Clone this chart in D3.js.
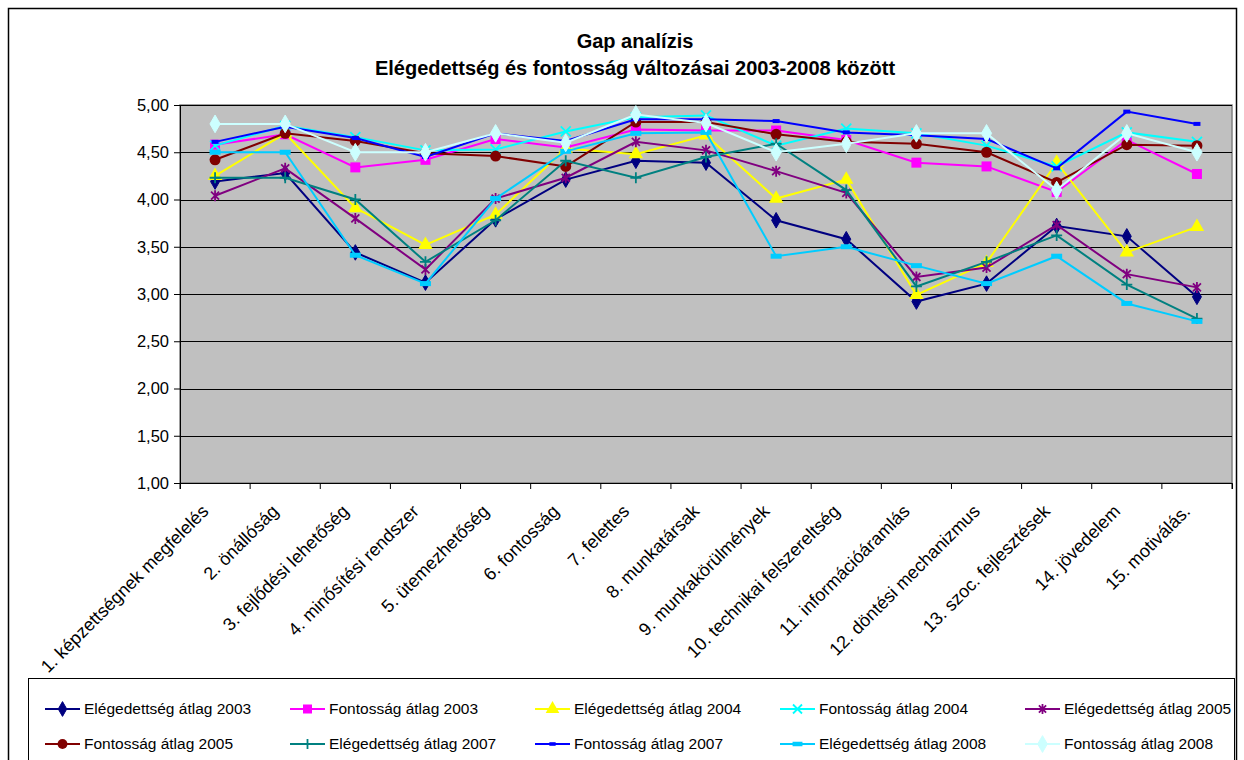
<!DOCTYPE html>
<html>
<head>
<meta charset="utf-8">
<script src="https://cdn.jsdelivr.net/npm/d3@7/dist/d3.min.js"></script>
<style>
body{margin:0;background:#fff;}
svg{display:block;font-family:"Liberation Sans",Arial,sans-serif;}
</style>
</head>
<body>
<svg id="chart" width="1244" height="760"></svg>
<script>
const categories = ["1. képzettségnek megfelelés","2. önállóság","3. fejlődési lehetőség","4. minősítési rendszer","5. ütemezhetőség","6. fontosság","7. felettes","8. munkatársak","9. munkakörülmények","10. technikai felszereltség","11. információáramlás","12. döntési mechanizmus","13. szoc. fejlesztések","14. jövedelem","15. motiválás."];
const yTicks = [1,1.5,2,2.5,3,3.5,4,4.5,5];
const seriesNames = ["Elégedettség átlag 2003","Fontosság átlag 2003","Elégedettség átlag 2004","Fontosság átlag 2004","Elégedettség átlag 2005","Fontosság átlag 2005","Elégedettség átlag 2007","Fontosság átlag 2007","Elégedettség átlag 2008","Fontosság átlag 2008"];
const elegedettseg2003 = [4.19,4.28,3.44,3.12,3.79,4.21,4.41,4.39,3.78,3.58,2.92,3.11,3.72,3.61,2.97];
const fontossag2003    = [4.58,4.69,4.34,4.42,4.64,4.55,4.74,4.73,4.73,4.63,4.39,4.35,4.08,4.63,4.27];
const elegedettseg2004 = [4.25,4.70,3.91,3.52,3.84,4.54,4.48,4.68,4.01,4.21,2.99,3.33,4.39,3.44,3.71];
const fontossag2004    = [4.57,4.78,4.66,4.52,4.53,4.72,4.87,4.89,4.57,4.75,4.70,4.57,4.35,4.71,4.61];
const elegedettseg2005 = [4.04,4.33,3.80,3.26,4.01,4.23,4.61,4.52,4.30,4.07,3.18,3.28,3.73,3.21,3.07];
const fontossag2005    = [4.42,4.70,4.62,4.49,4.46,4.35,4.82,4.82,4.69,4.61,4.59,4.50,4.18,4.58,4.57];
const elegedettseg2007 = [4.23,4.23,4.00,3.34,3.78,4.41,4.23,4.45,4.59,4.10,3.08,3.34,3.62,3.10,2.74];
const fontossag2007    = [4.61,4.77,4.65,4.45,4.70,4.62,4.85,4.85,4.83,4.71,4.68,4.64,4.33,4.93,4.80];
const elegedettseg2008 = [4.50,4.50,3.41,3.11,4.01,4.51,4.70,4.71,3.40,3.50,3.30,3.11,3.40,2.90,2.71];
const fontossag2008    = [4.80,4.80,4.50,4.50,4.70,4.60,4.90,4.81,4.50,4.59,4.70,4.70,4.10,4.70,4.50];

const seriesValues = [elegedettseg2003,fontossag2003,elegedettseg2004,fontossag2004,elegedettseg2005,fontossag2005,elegedettseg2007,fontossag2007,elegedettseg2008,fontossag2008];
const colors = ["#000080","#FF00FF","#FFFF00","#00FFFF","#800080","#800000","#008080","#0000FF","#00CCFF","#CCFFFF"];
const markers = ["diamond","square","triangle","x","star","circle","plus","dashSmall","dashWide","diamondBig"];

const svg = d3.select("#chart");
const plot = {left:180, right:1232, top:105, bottom:483};

// outer chart border
svg.append("rect").attr("x",8.5).attr("y",8.5).attr("width",1228).attr("height",770)
  .attr("fill","#fff").attr("stroke","#000").attr("stroke-width",1.5);

const x = d3.scaleBand().domain(categories).range([plot.left,plot.right]);
const cx = d => x(d) + x.bandwidth()/2;
const y = d3.scaleLinear().domain([1,5]).range([plot.bottom,plot.top]);

// plot area
svg.append("rect").attr("x",plot.left).attr("y",plot.top)
  .attr("width",plot.right-plot.left).attr("height",plot.bottom-plot.top)
  .attr("fill","#C0C0C0").attr("stroke","#808080").attr("stroke-width",1.5);

// gridlines
svg.append("g").selectAll("line").data(yTicks.filter(t=>t>1)).join("line")
  .attr("x1",plot.left).attr("x2",plot.right)
  .attr("y1",d=>Math.round(y(d))+0.5).attr("y2",d=>Math.round(y(d))+0.5)
  .attr("stroke","#000").attr("stroke-width",1);

// y axis
const yAxis = d3.axisLeft(y).tickValues(yTicks).tickSize(6).tickPadding(5)
  .tickFormat(d=>d3.format(".2f")(d).replace(".",","));
const gy = svg.append("g").attr("transform",`translate(${plot.left},0)`).call(yAxis);
gy.select(".domain").attr("stroke","#000");
gy.selectAll(".tick line").attr("stroke","#000");
gy.selectAll(".tick text").attr("font-size",16.5).attr("fill","#000")
  .attr("font-family","Liberation Sans, Arial, sans-serif");

// x axis
const xAxis = d3.axisBottom(x).tickSize(6).tickFormat("");
const gx = svg.append("g").attr("transform",`translate(0,${plot.bottom})`).call(xAxis);
gx.select(".domain").attr("stroke","#000");
gx.selectAll(".tick").remove();
gx.selectAll("line.b").data(d3.range(categories.length+1)).join("line").attr("class","b")
  .attr("x1",i=>plot.left+i*x.bandwidth()).attr("x2",i=>plot.left+i*x.bandwidth())
  .attr("y1",0).attr("y2",6).attr("stroke","#000");
gx.selectAll("text.lbl").data(categories).join("text").attr("class","lbl")
  .attr("transform",d=>`translate(${cx(d)-10},${25}) rotate(-45)`)
  .attr("text-anchor","end").attr("dy","0.35em")
  .attr("font-size",18).attr("fill","#000")
  .text(d=>d);

// marker drawing
function drawMarker(g, type, color, sx, sy, scale=1){
  const s = scale;
  switch(type){
    case "diamond":
      g.append("path").attr("d",d3.symbol(d3.symbolDiamond,70*s)()).attr("transform",`translate(${sx},${sy})`).attr("fill",color).attr("stroke",color); break;
    case "diamondBig":
      g.append("path").attr("d",d3.symbol(d3.symbolDiamond,90*s)()).attr("transform",`translate(${sx},${sy})`).attr("fill",color).attr("stroke",color); break;
    case "square":
      g.append("rect").attr("x",sx-5*s).attr("y",sy-5*s).attr("width",10*s).attr("height",10*s).attr("fill",color); break;
    case "triangle":
      g.append("path").attr("d",d3.symbol(d3.symbolTriangle,90*s)()).attr("transform",`translate(${sx},${sy})`).attr("fill",color); break;
    case "circle":
      g.append("circle").attr("cx",sx).attr("cy",sy).attr("r",5.5*s).attr("fill",color); break;
    case "x": {
      const r=5*s;
      g.append("path").attr("d",`M${sx-r},${sy-r}L${sx+r},${sy+r}M${sx-r},${sy+r}L${sx+r},${sy-r}`).attr("stroke",color).attr("stroke-width",1.8).attr("fill","none"); break; }
    case "star": {
      const r=5.5*s, q=4*s;
      g.append("path").attr("d",`M${sx-q},${sy-q}L${sx+q},${sy+q}M${sx-q},${sy+q}L${sx+q},${sy-q}M${sx},${sy-r}L${sx},${sy+r}`).attr("stroke",color).attr("stroke-width",1.8).attr("fill","none"); break; }
    case "plus": {
      const r=5.5*s;
      g.append("path").attr("d",`M${sx-r},${sy}L${sx+r},${sy}M${sx},${sy-r}L${sx},${sy+r}`).attr("stroke",color).attr("stroke-width",1.8).attr("fill","none"); break; }
    case "dashSmall":
      g.append("rect").attr("x",sx-3.5*s).attr("y",sy-2*s).attr("width",7*s).attr("height",4*s).attr("fill",color); break;
    case "dashWide":
      g.append("rect").attr("x",sx-5.5*s).attr("y",sy-2.5*s).attr("width",11*s).attr("height",5*s).attr("fill",color); break;
  }
}

const line = d3.line().x((d,i)=>cx(categories[i])).y(d=>y(d));
const series = seriesValues.map((vals,i)=>({name:seriesNames[i],values:vals,color:colors[i],marker:markers[i]}));

series.forEach(s=>{
  const g = svg.append("g");
  g.append("path").datum(s.values).attr("d",line).attr("fill","none")
    .attr("stroke",s.color).attr("stroke-width",2);
  s.values.forEach((v,i)=>drawMarker(g,s.marker,s.color,cx(categories[i]),y(v)));
});

// title
svg.append("text").attr("x",635).attr("y",48).attr("text-anchor","middle")
  .attr("font-size",20).attr("font-weight","bold").text("Gap analízis");
svg.append("text").attr("x",635).attr("y",75).attr("text-anchor","middle")
  .attr("font-size",20).attr("font-weight","bold").text("Elégedettség és fontosság változásai 2003-2008 között");

// legend
const lg = svg.append("g");
lg.append("rect").attr("x",28.5).attr("y",678.5).attr("width",1206).attr("height",100)
  .attr("fill","#fff").attr("stroke","#000").attr("stroke-width",1);
series.forEach((s,i)=>{
  const col = i%5, row = Math.floor(i/5);
  const lx = 45 + col*245, ly = 709 + row*35;
  lg.append("line").attr("x1",lx).attr("x2",lx+35).attr("y1",ly).attr("y2",ly)
    .attr("stroke",s.color).attr("stroke-width",2);
  drawMarker(lg,s.marker,s.color,lx+17.5,ly,0.9);
  lg.append("text").attr("x",lx+39).attr("y",ly).attr("dy","0.35em")
    .attr("font-size",15.5).attr("fill","#000").text(s.name);
});
</script>
</body>
</html>
